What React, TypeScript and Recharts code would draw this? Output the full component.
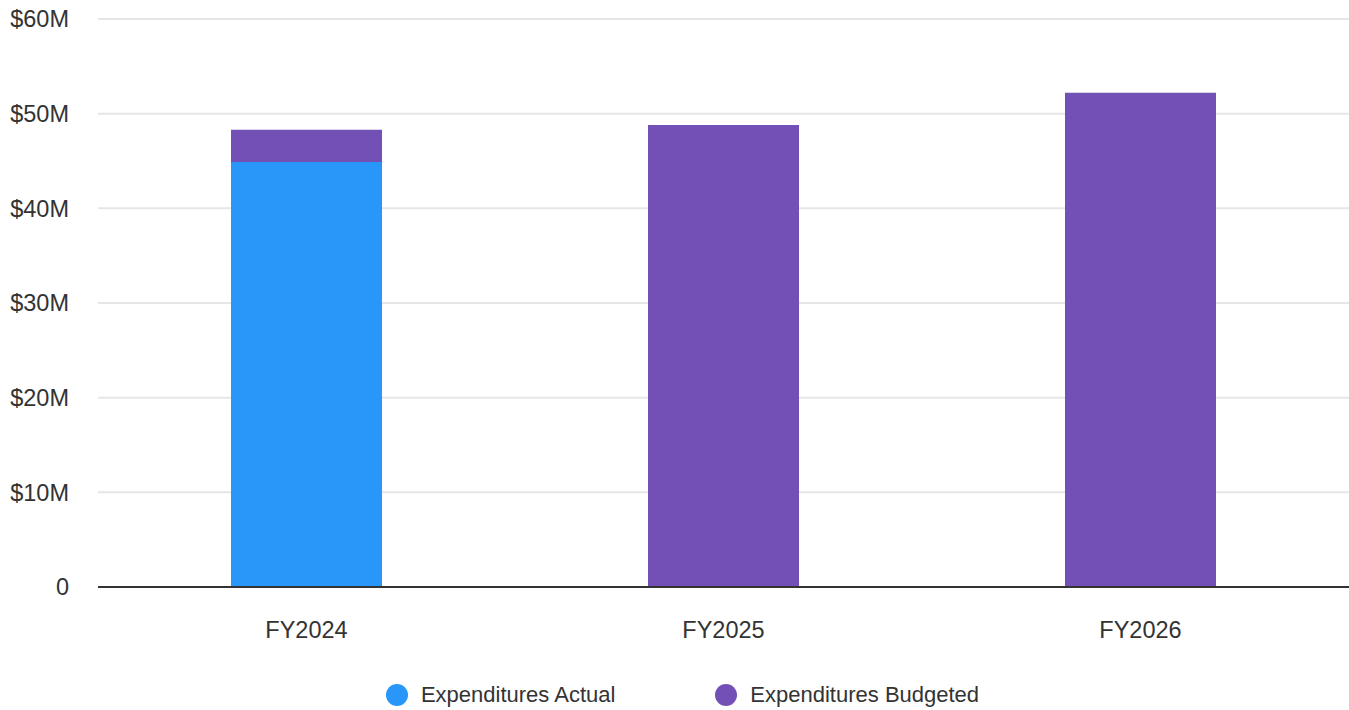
import React from "react";
import { BarChart, Bar, XAxis, YAxis, CartesianGrid, Legend } from "recharts";

// values in $ millions
const years = ["FY2024", "FY2025", "FY2026"];
const actual = [44.9, 0, 0];
const budgeted = [48.3, 48.8, 52.2];
const yTicks = [0, 10, 20, 30, 40, 50, 60];

const ACTUAL_COLOR = "#2897f9";
const BUDGET_COLOR = "#7250b5";
const TEXT = "#333333";
const FONT = "'Liberation Sans', Arial, sans-serif";

// stacked: budget part drawn on top of actual
const data = years.map((y, i) => ({
  name: y,
  actual: actual[i],
  budget: Math.max(budgeted[i] - actual[i], 0),
}));

const legendItems = [
  { label: "Expenditures Actual", color: ACTUAL_COLOR },
  { label: "Expenditures Budgeted", color: BUDGET_COLOR },
];

function LegendContent() {
  return (
    <div style={{ display: "flex", justifyContent: "center", paddingLeft: 16, fontFamily: FONT }}>
      {legendItems.map((it, i) => (
        <div key={i} style={{ display: "flex", alignItems: "center", marginRight: i === 0 ? 100 : 0 }}>
          <span style={{ width: 22, height: 22, borderRadius: "50%", background: it.color, display: "inline-block" }} />
          <span style={{ marginLeft: 13, fontSize: 22, color: TEXT }}>{it.label}</span>
        </div>
      ))}
    </div>
  );
}

export default function App() {
  return (
    <div style={{ position: "absolute", left: 0, top: 0, width: 1349, height: 710, background: "#fff" }}>
      <BarChart width={1349} height={710} data={data} margin={{ top: 19, right: 0, left: 0, bottom: 37 }}>
        <CartesianGrid vertical={false} stroke="#e6e6e6" strokeWidth={2} />
        <XAxis
          dataKey="name"
          height={60}
          tickLine={false}
          tickSize={0}
          tickMargin={34}
          axisLine={{ stroke: TEXT, strokeWidth: 2 }}
          tick={{ fontSize: 23.5, fill: TEXT, fontFamily: FONT }}
        />
        <YAxis
          width={98}
          domain={[0, 60]}
          ticks={yTicks}
          interval={0}
          axisLine={false}
          tickLine={false}
          tickSize={0}
          tickMargin={29}
          tickFormatter={(v: number) => (v === 0 ? "0" : `$${v}M`)}
          tick={{ fontSize: 23.5, fill: TEXT, fontFamily: FONT }}
        />
        <Legend
          content={<LegendContent />}
          wrapperStyle={{ top: 682, left: 0, width: 1349, height: 26 }}
        />
        <Bar dataKey="actual" stackId="a" fill={ACTUAL_COLOR} barSize={151} isAnimationActive={false} />
        <Bar dataKey="budget" stackId="a" fill={BUDGET_COLOR} barSize={151} isAnimationActive={false} />
      </BarChart>
    </div>
  );
}
